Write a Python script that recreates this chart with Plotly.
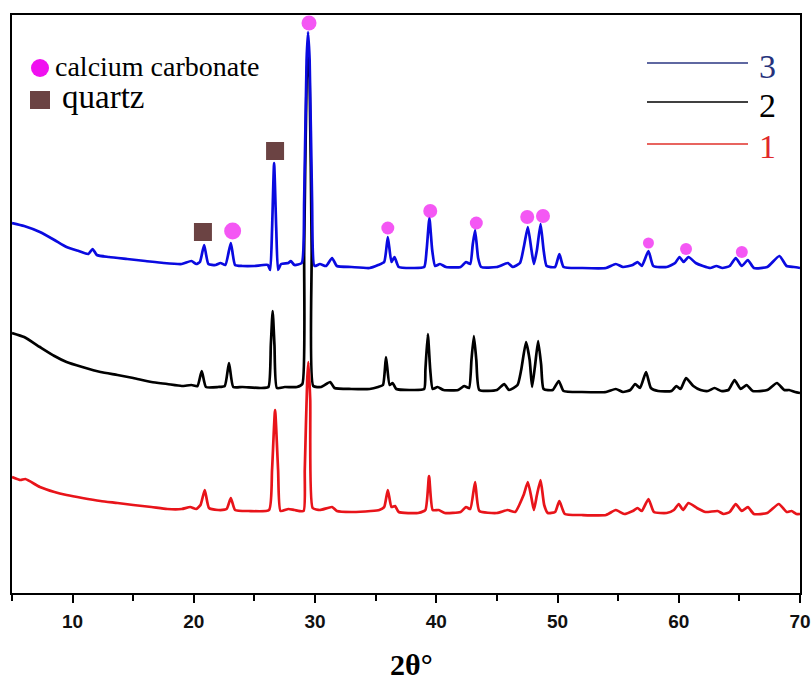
import plotly.graph_objects as go

# ---------------- data (2θ in degrees, intensity in arbitrary units) ----------------
blue_x = [5.0, 6.0, 7.3, 8.5, 9.5, 10.5, 11.3, 11.65, 12.0, 13.0, 14.5, 16.0, 17.5, 19.0, 19.8, 20.2, 20.5,
          20.85, 21.2, 21.8, 22.2, 22.6, 23.05, 23.4, 24.0, 25.0, 26.1, 26.3, 26.45, 26.62, 26.8, 26.95, 27.2,
          27.8, 28.0, 28.3, 28.9, 29.1, 29.3, 29.42, 29.55, 29.75, 29.95, 30.4, 30.9, 31.4, 31.8, 33.0, 34.5,
          35.2, 35.7, 36.0, 36.3, 36.55, 36.9, 38.0, 39.0, 39.2, 39.43, 39.66, 39.9, 40.3, 40.8, 42.0, 42.45,
          42.8, 43.0, 43.2, 43.45, 43.7, 45.0, 45.9, 46.3, 46.9, 47.25, 47.55, 47.85, 48.05, 48.3, 48.6, 48.85,
          49.1, 49.8, 50.15, 50.5, 52.0, 54.0, 54.8, 55.4, 56.2, 56.6, 56.95, 57.5, 57.9, 59.0, 59.7, 60.06,
          60.4, 60.8, 61.4, 62.0, 62.6, 63.1, 63.6, 64.2, 64.7, 65.2, 65.7, 66.2, 67.3, 68.3, 68.9, 69.5, 70.0]
blue_y = [370, 367, 361, 353, 346, 342, 339, 344, 338, 336, 334, 332, 330, 329, 332, 329, 331,
          348, 329, 328, 330, 328, 350, 328, 327, 327, 328, 323, 363, 430, 363, 323, 329,
          330, 332, 328, 330, 393, 533, 561, 533, 393, 327, 329, 327, 335, 327, 326, 325,
          328, 331, 356, 331, 336, 326, 325, 326, 343, 375, 343, 327, 329, 326, 326, 331,
          329, 348, 363, 335, 326, 326, 330, 326, 330, 348, 366, 343, 329, 343, 369, 343,
          327, 326, 339, 326, 325, 325, 329, 326, 328, 331, 327, 342, 327, 326, 330, 336,
          331, 336, 330, 327, 325, 327, 325, 327, 335, 327, 333, 325, 326, 337, 327, 326, 325]

black_x = [5.0, 6.0, 7.3, 8.5, 9.5, 10.8, 12.3, 13.7, 15.0, 16.5, 17.8, 19.0, 19.8, 20.3, 20.65, 21.0, 22.0,
           22.55, 22.9, 23.25, 24.0, 25.5, 26.15, 26.35, 26.5, 26.65, 26.85, 27.5, 28.5, 28.95, 29.1, 29.3,
           29.42, 29.55, 29.72, 29.85, 30.5, 31.25, 31.6, 33.0, 34.5, 35.2, 35.6, 35.85, 36.15, 36.4, 36.7, 38.0,
           39.0, 39.1, 39.3, 39.5, 39.7, 40.1, 40.6, 41.8, 42.3, 42.7, 42.9, 43.1, 43.3, 43.55, 45.0, 45.6,
           46.0, 46.7, 47.0, 47.4, 47.7, 47.9, 48.15, 48.4, 48.65, 48.85, 49.6, 50.1, 50.5, 52.0, 54.0, 54.8,
           55.4, 56.0, 56.4, 56.8, 57.3, 57.7, 58.3, 59.4, 59.8, 60.15, 60.6, 61.2, 61.8, 62.4, 62.95, 63.5,
           64.1, 64.6, 65.1, 65.6, 66.1, 67.3, 68.1, 68.7, 69.1, 69.6, 70.0]
black_y = [260, 256, 246, 237, 231, 226, 221, 218, 215, 211, 209, 207, 208, 207, 222, 206, 206,
           207, 230, 206, 206, 205, 206, 248, 282, 248, 205, 206, 206, 209, 343, 513,
           540, 513, 343, 207, 206, 211, 205, 204, 204, 206, 208, 236, 208, 210, 204, 203,
           204, 223, 259, 223, 204, 206, 203, 203, 207, 205, 233, 257, 233, 203, 203, 209,
           203, 208, 223, 251, 233, 206, 228, 252, 228, 204, 203, 212, 202, 201, 201, 204,
           201, 203, 209, 205, 221, 205, 202, 202, 207, 204, 215, 207, 203, 202, 205, 202,
           203, 213, 204, 208, 202, 203, 210, 203, 203, 201, 200]

red_x = [5.0, 5.7, 6.1, 7.3, 8.5, 9.5, 10.8, 12.3, 13.7, 15.0, 16.5, 17.8, 19.0, 19.7, 20.2, 20.55, 20.9,
         21.25, 22.0, 22.7, 23.05, 23.4, 24.5, 26.2, 26.45, 26.7, 26.95, 27.15, 27.8, 28.3, 29.05, 29.15,
         29.35, 29.45, 29.6, 29.8, 30.4, 31.4, 31.8, 33.0, 34.6, 35.3, 35.7, 36.0, 36.3, 36.6, 36.9, 38.5,
         39.1, 39.4, 39.7, 40.2, 40.7, 42.0, 42.45, 42.8, 43.2, 43.55, 45.0, 45.9, 46.5, 47.2, 47.55, 47.85,
         48.05, 48.3, 48.6, 48.9, 49.2, 49.8, 50.15, 50.6, 52.0, 54.0, 54.8, 55.5, 56.2, 56.6, 56.95, 57.5,
         57.95, 59.0, 59.6, 60.0, 60.35, 60.8, 61.5, 62.2, 63.2, 63.7, 64.2, 64.7, 65.2, 65.7, 66.2, 67.3,
         68.25, 68.9, 69.3, 69.7, 70.0]
red_y = [116, 113, 114, 106, 101, 98, 95, 92, 90, 88, 86, 84, 84, 86, 84, 88, 103,
         85, 83, 84, 95, 83, 82, 83, 123, 183, 123, 82, 84, 83, 82, 123,
         213, 231, 193, 85, 83, 86, 82, 81, 82, 83, 86, 103, 86, 87, 81, 80,
         83, 117, 83, 83, 80, 81, 86, 84, 111, 82, 80, 83, 81, 98, 111, 95,
         83, 98, 113, 88, 80, 81, 92, 79, 78, 78, 83, 79, 82, 85, 82, 94,
         81, 80, 83, 89, 83, 90, 85, 81, 82, 79, 81, 89, 82, 86, 79, 80,
         89, 81, 82, 79, 79]

calcite_x = [23.2, 29.5, 36.0, 39.5, 43.3, 47.5, 48.8, 57.5, 60.6, 65.2]
calcite_y = [362, 570, 365, 382, 370, 376, 377, 350, 344, 341]
calcite_size = [17, 15, 13, 14, 13, 14, 14, 11, 12, 12]

quartz_x = [20.75, 26.7]
quartz_y = [361, 442]

series_names = ["3", "2", "1"]
series_colors = ["#0a0ae0", "#000000", "#e8141a"]
legend_text_colors = ["#26327c", "#000000", "#e0282a"]
legend_line_colors = ["#2a3682", "#000000", "#e0302a"]

MAGENTA = "#f010f0"
BROWN = "#6b4343"

# ---------------- figure ----------------
W, H = 812, 682
ML, MR, MT, MB = 12, 12, 15, 89
PW, PH = W - ML - MR, H - MT - MB


def px(x):
    return (x - ML) / PW


def py(y):
    return (H - MB - y) / PH


fig = go.Figure()
for xs, ys, c, n in [(black_x, black_y, series_colors[1], "2"),
                     (red_x, red_y, series_colors[2], "1"),
                     (blue_x, blue_y, series_colors[0], "3")]:
    fig.add_trace(go.Scatter(x=xs, y=ys, mode="lines", name=n,
                             line=dict(color=c, width=2.7, shape="spline", smoothing=0.5),
                             showlegend=False, hoverinfo="skip"))

fig.add_trace(go.Scatter(x=calcite_x, y=calcite_y, mode="markers", cliponaxis=False,
                         marker=dict(symbol="circle", color=MAGENTA, size=calcite_size, line=dict(width=0)),
                         showlegend=False, name="calcium carbonate"))
fig.add_trace(go.Scatter(x=quartz_x, y=quartz_y, mode="markers", cliponaxis=False,
                         marker=dict(symbol="square", color=BROWN, size=18, line=dict(width=0)),
                         showlegend=False, name="quartz"))

shapes = []
annotations = []

# upper-left phase key
shapes.append(dict(type="circle", xref="paper", yref="paper", xsizemode="pixel", ysizemode="pixel",
                   xanchor=px(40), yanchor=py(68), x0=-9, x1=9, y0=-9, y1=9,
                   fillcolor=MAGENTA, line=dict(width=0)))
shapes.append(dict(type="rect", xref="paper", yref="paper", xsizemode="pixel", ysizemode="pixel",
                   xanchor=px(40), yanchor=py(100), x0=-10, x1=10, y0=-9, y1=9,
                   fillcolor=BROWN, line=dict(width=0)))
annotations.append(dict(text="calcium carbonate", xref="paper", yref="paper", x=px(53), y=py(66),
                        xanchor="left", yanchor="middle", showarrow=False,
                        font=dict(family="Liberation Serif", size=28, color="black")))
annotations.append(dict(text="quartz", xref="paper", yref="paper", x=px(60), y=py(97),
                        xanchor="left", yanchor="middle", showarrow=False,
                        font=dict(family="Liberation Serif", size=33, color="black")))

# upper-right series key
for i, (n, lc, tc) in enumerate(zip(series_names, legend_line_colors, legend_text_colors)):
    yy = [63, 102, 144][i]
    shapes.append(dict(type="line", xref="paper", yref="paper", x0=px(647), x1=px(748), y0=py(yy), y1=py(yy),
                       line=dict(color=lc, width=1.6)))
    annotations.append(dict(text=n, xref="paper", yref="paper", x=px(757), y=py(yy + 3),
                            xanchor="left", yanchor="middle", showarrow=False,
                            font=dict(family="Liberation Serif", size=34, color=tc)))

# axis title
annotations.append(dict(text="2θ°", xref="paper", yref="paper", x=px(411), y=py(664),
                        xanchor="center", yanchor="middle", showarrow=False,
                        font=dict(family="Liberation Serif", size=30, color="black", weight="bold")))

fig.update_layout(
    width=W, height=H,
    margin=dict(l=ML, r=MR, t=MT, b=MB, pad=0, autoexpand=False),
    paper_bgcolor="white", plot_bgcolor="white",
    shapes=shapes, annotations=annotations,
    showlegend=False,
    xaxis=dict(range=[5, 70], tickmode="linear", tick0=0, dtick=10, automargin=False,
               ticks="outside", ticklen=8, tickwidth=2, tickcolor="black",
               minor=dict(tick0=0, dtick=5, ticks="outside", ticklen=6, tickwidth=2, tickcolor="black"),
               showline=True, linecolor="black", linewidth=2, mirror=True,
               showgrid=False, zeroline=False,
               ticklabelstandoff=2,
               tickfont=dict(family="Liberation Sans", size=19, color="#111", weight="bold")),
    yaxis=dict(range=[0, PH], showticklabels=False, ticks="", automargin=False,
               showline=True, linecolor="black", linewidth=2, mirror=True,
               showgrid=False, zeroline=False),
)

fig.write_html("out.html")
